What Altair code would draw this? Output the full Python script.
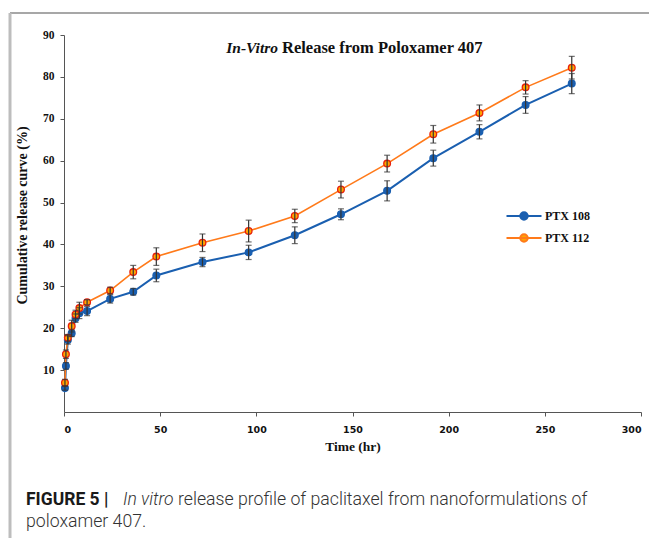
import altair as alt
import pandas as pd

# ---- data ----
time_hr = [0.5, 1, 2, 4, 6, 8, 12, 24, 36, 48, 72, 96, 120, 144, 168, 192, 216, 240, 264]
ptx108 = [5.7, 11.0, 17.2, 18.8, 22.4, 23.6, 24.1, 27.0, 28.7, 32.6, 35.8, 38.1, 42.2, 47.2, 52.8, 60.6, 66.9, 73.3, 78.4]
ptx108_err = [0.5, 0.8, 1.0, 0.8, 1.0, 1.3, 1.1, 1.0, 0.8, 1.5, 1.1, 1.7, 2.0, 1.3, 2.4, 1.9, 1.7, 2.0, 2.4]
ptx112 = [7.0, 13.8, 17.7, 20.5, 23.3, 24.8, 26.2, 29.0, 33.4, 37.1, 40.4, 43.2, 46.8, 53.1, 59.3, 66.3, 71.4, 77.5, 82.2]
ptx112_err = [0.8, 1.0, 0.8, 1.4, 1.0, 1.4, 0.6, 0.8, 1.6, 2.1, 2.1, 2.6, 1.6, 2.0, 2.0, 2.1, 1.9, 1.6, 2.7]
series_names = ["PTX 108", "PTX 112"]
series_colors = ["#1a5fb0", "#ff7a1a"]
marker_fill = ["#1a5fb0", "#ffa500"]
line_widths = [2.0, 1.6]
x_ticks = [0, 50, 100, 150, 200, 250, 300]
y_ticks = [10, 20, 30, 40, 50, 60, 70, 80, 90]
title_italic = ["In-Vitro"]
title_rest = ["Release from Poloxamer 407"]
caption_bold = ["FIGURE 5 |"]
caption_italic = ["In vitro"]
caption_rest1 = ["release profile of paclitaxel from nanoformulations of"]
caption_rest2 = ["poloxamer 407."]
x_title = "Time (hr)"
y_title = "Cumulative release curve (%)"

rows = []
for name, vals, errs, lw in [(series_names[0], ptx108, ptx108_err, line_widths[0]),
                             (series_names[1], ptx112, ptx112_err, line_widths[1])]:
    for t, v, e in zip(time_hr, vals, errs):
        rows.append({"time": t, "value": v, "lo": v - e, "hi": v + e, "series": name, "lw": lw})
df = pd.DataFrame(rows)

X = alt.X("time:Q", scale=alt.Scale(domain=[0, 300], nice=False),
          axis=alt.Axis(values=x_ticks, title=x_title, grid=False, labelFont="DejaVu Sans",
                        labelFontWeight="bold", labelFontSize=9.5, labelColor="#111",
                        titleFont="Liberation Serif", titleFontWeight="bold", titleFontSize=13.5,
                        titleColor="#111", titlePadding=6, domainColor="#555", tickColor="#555",
                        tickSize=4, labelPadding=8))
Y = alt.Y("value:Q", scale=alt.Scale(domain=[0, 90], nice=False),
          axis=alt.Axis(values=y_ticks, title=y_title, grid=False, labelFont="Liberation Serif",
                        labelFontWeight="bold", labelFontSize=11.5, labelColor="#111",
                        titleFont="Liberation Serif", titleFontWeight="bold", titleFontSize=14,
                        titleColor="#111", titlePadding=13, titleY=180, domainColor="#555",
                        tickColor="#555", tickSize=4, labelPadding=6))

color = alt.Color("series:N", scale=alt.Scale(domain=series_names, range=series_colors),
                  legend=alt.Legend(title=None, orient="none", legendX=454, legendY=175,
                                    symbolType="M-3.5,0L3.5,0M-0.75,0A0.75,0.75,0,1,0,0.75,0A0.75,0.75,0,1,0,-0.75,0Z",
                                    symbolSize=100, symbolStrokeWidth=2, labelFont="Liberation Serif",
                                    labelFontWeight="bold", labelFontSize=12, labelColor="#111",
                                    rowPadding=6, labelOffset=15))

base = alt.Chart(df)
lines = base.mark_line().encode(x=X, y=Y, color=color, order="time:Q",
                                strokeWidth=alt.StrokeWidth("lw:Q", scale=None, legend=None))
points = base.mark_point(filled=True, size=45, opacity=1, strokeWidth=1.3).encode(
    x=X, y=Y,
    fill=alt.Fill("series:N", scale=alt.Scale(domain=series_names, range=marker_fill), legend=None),
    stroke=alt.condition(alt.datum.series == series_names[1], alt.value("#e8200c"), alt.value(series_colors[0])),
)
err_rule = base.mark_rule(color="#333", strokeWidth=1.2).encode(x="time:Q", y="lo:Q", y2="hi:Q")
cap_lo = base.mark_tick(color="#333", orient="horizontal", size=6, thickness=1.2).encode(x="time:Q", y="lo:Q")
cap_hi = base.mark_tick(color="#333", orient="horizontal", size=6, thickness=1.2).encode(x="time:Q", y="hi:Q")

def txt(values, x, y, font, size, weight="normal", style="normal", align="left", color="#111"):
    return alt.Chart(pd.DataFrame({"t": values})).mark_text(
        font=font, fontSize=size, fontWeight=weight, fontStyle=style, align=align,
        baseline="alphabetic", color=color).encode(text="t:N", x=alt.value(x), y=alt.value(y))

title1 = txt(title_italic, 214, 18, "Liberation Serif", 15.5, "bold", "italic", "right")
title2 = txt(title_rest, 218, 18, "Liberation Serif", 16.5, "bold")
cap1 = txt(caption_bold, -38, 470, "Roboto", 17.5, "bold", color="#1a1a1a")
cap2 = txt(caption_italic, 59, 470, "Roboto", 17.5, 300, "italic", color="#333")
cap3 = txt(caption_rest1, 114, 470, "Roboto", 17.7, 300, color="#333")
cap4 = txt(caption_rest2, -38, 492, "Roboto", 17.7, 300, color="#333")

one = alt.Chart(pd.DataFrame({"k": [0]}))
frame_top = one.mark_rule(color="#8a8a8a", strokeWidth=1.5).encode(x=alt.value(-54), x2=alt.value(590), y=alt.value(-22))
frame_left = one.mark_rule(color="#bdbdbd", strokeWidth=3).encode(x=alt.value(-54), y=alt.value(-22), y2=alt.value(510))

chart = alt.layer(
    frame_top, frame_left, lines, points, err_rule, cap_lo, cap_hi,
    title1, title2, cap1, cap2, cap3, cap4
).properties(
    width=577, height=377,
    autosize=alt.AutoSizeParams(type="none"),
    padding={"left": 64, "top": 35, "right": 8, "bottom": 126},
    background="white",
).configure_view(stroke=None)

chart.save("out.html", embed_options={"renderer": "svg", "actions": False})
